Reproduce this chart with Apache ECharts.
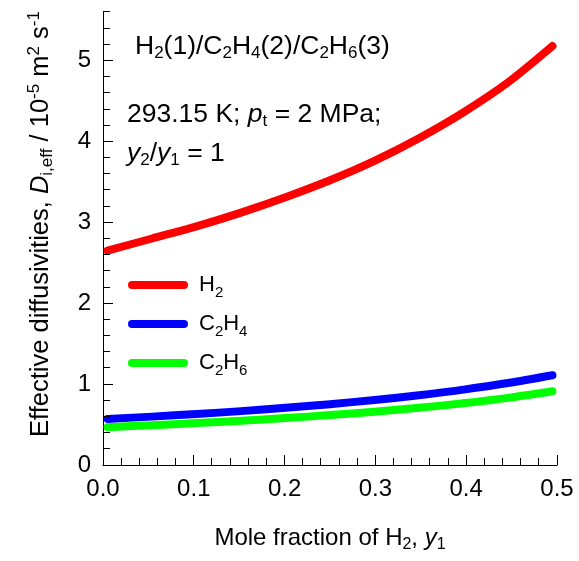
<!DOCTYPE html>
<html>
<head>
<meta charset="utf-8">
<script src="https://cdn.jsdelivr.net/npm/echarts@6/dist/echarts.min.js"></script>
<style>
html, body { margin: 0; padding: 0; background: #fff; }
#chart { width: 579px; height: 561px; }
</style>
</head>
<body>
<div id="chart"></div>
<script>
// mole fraction of H2, y1
const y1 = [0.005, 0.054, 0.103, 0.152, 0.201, 0.25, 0.299, 0.348, 0.397, 0.446, 0.495];
// effective diffusivities / 1e-5 m2 s-1
const dH2 = [2.65, 2.80, 2.95, 3.12, 3.31, 3.52, 3.76, 4.04, 4.36, 4.73, 5.18];
const dC2H4 = [0.57, 0.598, 0.63, 0.666, 0.707, 0.752, 0.804, 0.863, 0.932, 1.013, 1.11];
const dC2H6 = [0.468, 0.492, 0.518, 0.548, 0.58, 0.617, 0.659, 0.707, 0.763, 0.83, 0.912];

const seriesNames = ['H2', 'C2H4', 'C2H6'];
const seriesColors = ['#ff0000', '#0000ff', '#00ff00'];
const legendText = {
    H2: '{p|H}{sub|2}',
    C2H4: '{p|C}{sub|2}H{sub|4}',
    C2H6: '{p|C}{sub|2}H{sub|6}'
};
const yTicks = [0, 1, 2, 3, 4, 5];

// tick spacing: x major 0.1 / minor 0.02, y major 1 / minor 0.2
const xMinor = { step: 0.02, count: 25, every: 5 };
const yMinor = { step: 0.2, count: 28, every: 5 };

const FONT = '"Liberation Sans", Arial, sans-serif';

// rich text styles for sub/superscripts
function richSet(size, small) {
    return {
        p: { fontFamily: FONT, fontSize: size, lineHeight: 30, color: '#000', padding: [0, 0, 0, 6] },
        i: { fontFamily: FONT, fontSize: size, lineHeight: 30, color: '#000', fontStyle: 'italic' },
        sub: { fontFamily: FONT, fontSize: small, lineHeight: 14, color: '#000', verticalAlign: 'bottom' },
        sup: { fontFamily: FONT, fontSize: small, lineHeight: 14, color: '#000', verticalAlign: 'top' }
    };
}

function pairs(ys) {
    return y1.map((x, k) => [x, ys[k]]);
}

function label(text, x, y, size, small, extra) {
    return {
        type: 'text',
        x: x,
        y: y,
        rotation: extra ? extra.rotation : 0,
        z: 100,
        style: {
            text: text,
            fontFamily: FONT,
            fontSize: size,
            lineHeight: 30,
            fill: '#000',
            align: extra ? extra.align : 'left',
            verticalAlign: 'middle',
            rich: richSet(size, small)
        }
    };
}

const chart = echarts.init(document.getElementById('chart'));

chart.setOption({
    animation: false,
    backgroundColor: '#fff',
    grid: { left: 103, right: 22, top: 12, bottom: 96 },
    xAxis: {
        type: 'value',
        min: 0,
        max: 0.5,
        interval: 0.1,
        axisLine: { show: true, onZero: false, lineStyle: { color: '#000', width: 1 } },
        axisTick: { show: false },
        splitLine: { show: false },
        axisLabel: {
            formatter: v => v.toFixed(1),
            margin: 12,
            fontFamily: FONT,
            fontSize: 24,
            color: '#000'
        },
        name: 'Mole fraction of H{sub|2}, {i|y}{sub|1}',
        nameLocation: 'middle',
        nameGap: 58,
        nameTextStyle: {
            fontFamily: FONT,
            fontSize: 24,
            lineHeight: 30,
            color: '#000',
            rich: richSet(24, 16)
        }
    },
    yAxis: {
        type: 'value',
        min: 0,
        max: 5.6,
        interval: 1,
        axisLine: { show: true, onZero: false, lineStyle: { color: '#000', width: 1 } },
        axisTick: { show: false },
        axisLabel: {
            customValues: yTicks,
            margin: 12,
            fontFamily: FONT,
            fontSize: 24,
            color: '#000'
        },
        splitLine: { show: false }
    },
    legend: {
        orient: 'vertical',
        left: 128,
        top: 270,
        padding: 0,
        itemWidth: 60,
        itemHeight: 8,
        itemGap: 9,
        icon: 'path://M4,0H56A4,4,0,0,1,56,8H4A4,4,0,0,1,4,0Z',
        data: seriesNames,
        formatter: name => legendText[name],
        textStyle: {
            fontFamily: FONT,
            fontSize: 22,
            lineHeight: 30,
            color: '#000',
            rich: richSet(22, 15)
        }
    },
    series: [dH2, dC2H4, dC2H6].map((ys, k) => ({
        name: seriesNames[k],
        type: 'line',
        data: pairs(ys),
        smooth: 0.3,
        showSymbol: false,
        color: seriesColors[k],
        lineStyle: { color: seriesColors[k], width: 8, cap: 'round', join: 'round' }
    }))
});

// inward tick marks, placed through the axes' own scales
const ticks = [];
const origin = chart.convertToPixel({ gridIndex: 0 }, [0, 0]);
for (let k = 0; k <= xMinor.count; k++) {
    const px = chart.convertToPixel({ xAxisIndex: 0 }, k * xMinor.step);
    const x = Math.floor(px) + 0.5;
    const len = k % xMinor.every === 0 ? 10 : 7;
    ticks.push({
        type: 'line', z: 50,
        shape: { x1: x, y1: origin[1], x2: x, y2: origin[1] - len },
        style: { stroke: '#000', lineWidth: 1 }
    });
}
for (let k = 0; k <= yMinor.count; k++) {
    const py = chart.convertToPixel({ yAxisIndex: 0 }, k * yMinor.step);
    const y = Math.floor(py) + 0.5;
    const len = k % yMinor.every === 0 ? 10 : 7;
    ticks.push({
        type: 'line', z: 50,
        shape: { x1: origin[0], y1: y, x2: origin[0] + len, y2: y },
        style: { stroke: '#000', lineWidth: 1 }
    });
}

chart.setOption({
    graphic: ticks.concat([
        label('H{sub|2}(1)/C{sub|2}H{sub|4}(2)/C{sub|2}H{sub|6}(3)', 135, 47, 26.5, 17),
        label('293.15 K; {i|p}{sub|t} = 2 MPa;', 127, 115, 26.5, 17),
        label('{i|y}{sub|2}/{i|y}{sub|1} = 1', 127, 154, 26.5, 17),
        label('Effective diffusivities, {i|D}{sub|i,eff} / 10{sup|-5} m{sup|2} s{sup|-1}', 41, 224, 25.5, 17,
            { rotation: Math.PI / 2, align: 'center' })
    ])
});
</script>
</body>
</html>
